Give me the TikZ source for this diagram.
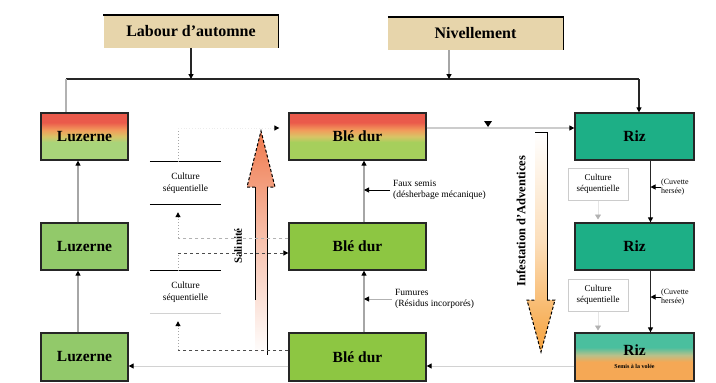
\documentclass[tikz,border=0pt]{standalone}
\usepackage{fontspec}
\setmainfont{Liberation Serif}
\usetikzlibrary{arrows.meta,calc}
\definecolor{beige}{HTML}{E7D5AB}
\definecolor{luzgreen}{HTML}{92C96A}
\definecolor{luzlight}{HTML}{A9D47A}
\definecolor{blegreen}{HTML}{8DC642}
\definecolor{blelight}{HTML}{A6CF5C}
\definecolor{rizteal}{HTML}{1DAF86}
\definecolor{topred}{HTML}{EA5A4B}
\definecolor{midorange}{HTML}{F29B5B}
\definecolor{midyellow}{HTML}{D8C466}
\definecolor{rizorange}{HTML}{F5A855}
\definecolor{rizpale}{HTML}{B9C08A}
\definecolor{uparrow}{HTML}{EF7A4E}
\definecolor{downarrow}{HTML}{F6A23C}
\pgfdeclareverticalshading{luzsh}{100bp}{color(0bp)=(luzlight); color(25bp)=(luzlight); color(44bp)=(luzlight); color(50bp)=(midyellow); color(57bp)=(midorange); color(65bp)=(topred); color(100bp)=(topred)}
\pgfdeclareverticalshading{blesh}{100bp}{color(0bp)=(blelight); color(25bp)=(blelight); color(44bp)=(blelight); color(50bp)=(midyellow); color(57bp)=(midorange); color(65bp)=(topred); color(100bp)=(topred)}
\pgfdeclareverticalshading{rizsh}{100bp}{color(0bp)=(rizorange); color(25bp)=(rizorange); color(45bp)=(rizorange); color(52bp)=(rizpale); color(60bp)=(rizteal!80); color(75bp)=(rizteal!80); color(100bp)=(rizteal!80)}
\begin{document}
\begin{tikzpicture}[x=1pt,y=-1pt,
  box/.style={draw=black!85, line width=1.3pt, inner sep=0pt, minimum height=47pt,
    font=\fontsize{15.5}{17}\selectfont\bfseries},
  luzbox/.style={box, minimum width=87pt},
  blebox/.style={box, minimum width=137pt},
  rizbox/.style={box, minimum width=119pt},
  topbox/.style={fill=beige, inner sep=0pt, minimum height=33pt, minimum width=175pt,
    font=\fontsize{16}{18}\selectfont\bfseries},
  tip/.style={-{Triangle[length=5pt,width=5pt,color=black,fill=black]}},
  graytip/.style={-{Triangle[length=5pt,width=6pt,color=gray!60,fill=gray!60]}},
  grayline/.style={draw=gray!70, line width=1.2pt, tip},
  blackline/.style={draw=black!85, line width=1.2pt, tip},
  small/.style={font=\fontsize{9.5}{11.5}\selectfont, align=left, inner sep=0pt},
  cslab/.style={font=\fontsize{9.5}{11.5}\selectfont, align=center, inner sep=0pt,
    minimum width=71pt, minimum height=42pt},
  csbox/.style={draw=gray!40, line width=1pt, font=\fontsize{9}{10.5}\selectfont,
    align=center, inner sep=0pt, minimum width=60pt, minimum height=32pt},
  tinylab/.style={font=\fontsize{8}{9.5}\selectfont, align=left, inner sep=0pt},
  dashlink/.style={draw=black!70, dashed, line width=0.9pt},
  dotlink/.style={draw=gray!70, dotted, line width=1pt},
]
\useasboundingbox (0,0) rectangle (716,383);

% big shaded arrows
\shade[top color=uparrow, bottom color=white, middle color=uparrow!45]
  (255,355) -- (255,187) -- (247,187) -- (261,131) -- (275,187) -- (267,187) -- (267,355) -- cycle;
\draw[line width=1pt] (255,187) -- (255,300);
\draw[line width=1pt] (267,187) -- (267,355);
\draw[line width=1pt, densely dashed] (255,187) -- (247,187) -- (261,131) -- (275,187) -- (267,187);

\shade[top color=white, bottom color=downarrow, middle color=downarrow!35]
  (535,132) -- (547,132) -- (547,300) -- (555,300) -- (541,352) -- (527,300) -- (535,300) -- cycle;
\draw[line width=1pt] (535,132) -- (547,132) -- (547,300);
\draw[line width=1pt, densely dashed] (547,300) -- (555,300) -- (541,352) -- (527,300) -- (535,300);

\node[rotate=90, font=\fontsize{11}{13}\selectfont\bfseries] (sal) at (238,246) {Salinité};
\node[rotate=90, font=\fontsize{12.5}{14}\selectfont\bfseries] (inf) at (521,221) {Infestation d'Adventices};

% top boxes
\node[topbox] (lab) at (191,31.5) {Labour d'automne};
\draw[line width=1.4pt] (lab.north west) -- (lab.north east) -- (lab.south east);
\node[topbox] (niv) at (475.5,33.5) {Nivellement};
\draw[line width=1.4pt] (niv.north west) -- (niv.north east) -- (niv.south east);

% main boxes
\node[luzbox, shade, shading=luzsh] (luz1) at (84.5,136.5) {Luzerne};
\node[luzbox, fill=luzgreen] (luz2) at (84.5,246.5) {Luzerne};
\node[luzbox, fill=luzgreen, minimum height=48pt] (luz3) at (84.5,357) {Luzerne};

\node[blebox, shade, shading=blesh] (ble1) at (357.5,136.5) {Blé dur};
\node[blebox, fill=blegreen] (ble2) at (357.5,246.5) {Blé dur};
\node[blebox, fill=blegreen, minimum height=48pt] (ble3) at (357.5,357) {Blé dur};

\node[rizbox, fill=rizteal] (riz1) at (634.5,136.5) {Riz};
\node[rizbox, fill=rizteal] (riz2) at (634.5,246.5) {Riz};
\node[rizbox, shade, shading=rizsh, minimum height=48pt, align=center] (riz3) at (634.5,357)
  {Riz\\[-4pt]{\fontsize{6}{7}\selectfont Semis à la volée}};

% top distribution line
\coordinate (tl) at (66,79);
\coordinate (tr) at (639,79);
\coordinate (nv) at (449,79);
\draw[line width=1.3pt, black!85] (tl) -- (tr);
\draw[blackline] (tr) -- (tr |- riz1.north);
\draw[draw=gray!60, line width=1.2pt] (tl) -- (tl |- luz1.north);
\draw[blackline] (lab.south) -- (lab.south |- tl);
\draw[grayline] (nv |- niv.south) -- (nv);

% vertical successions
\draw[grayline] ([xshift=-6.5pt]luz2.north) -- ([xshift=-6.5pt]luz1.south);
\draw[grayline] ([xshift=-6.5pt]luz3.north) -- ([xshift=-6.5pt]luz2.south);
\coordinate (bx) at ([xshift=6.5pt]ble1.south);
\draw[grayline] ([xshift=6.5pt]ble2.north) -- (bx);
\draw[grayline] ([xshift=6.5pt]ble3.north) -- ([xshift=6.5pt]ble2.south);
\coordinate (rx) at ([xshift=16pt]riz1.south);
\draw[blackline] (rx) -- ([xshift=16pt]riz2.north);
\draw[blackline] ([xshift=16pt]riz2.south) -- ([xshift=16pt]riz3.north);

% side labels
\node[small, anchor=west] (fs) at (393,190) {Faux semis\\(désherbage mécanique)};
\draw[tip, line width=1pt] ([xshift=-3pt]fs.west) -- (fs.west -| bx);
\node[small, anchor=west] (fu) at (395,299) {Fumures\\(Résidus incorporés)};
\draw[tip, draw=gray!60, line width=1pt] ([xshift=-3pt]fu.west) -- (fu.west -| bx);

\node[tinylab, anchor=west] (rl1) at (661,187) {(Cuvette\\hersée)};
\draw[tip, line width=1pt] (rl1.west) -- (rl1.west -| rx);
\node[tinylab, anchor=west] (rl2) at (661,297) {(Cuvette\\hersée)};
\draw[tip, line width=1pt] (rl2.west) -- (rl2.west -| rx);

\node[csbox] (cs1) at (598,184) {Culture\\séquentielle};
\draw[draw=gray!20, line width=0.8pt, graytip] (cs1.south) -- ++(0,19);
\node[csbox] (cs2) at (598,295) {Culture\\séquentielle};
\draw[draw=gray!20, line width=0.8pt, graytip] (cs2.south) -- ++(0,19);

% left culture sequence labels
\node[cslab] (cl1) at (185.5,183) {Culture\\séquentielle};
\draw[line width=1.2pt] (cl1.north west) -- (cl1.north east);
\draw[line width=1.2pt] (cl1.south west) -- (cl1.south east);
\node[cslab] (cl2) at (185.5,292) {Culture\\séquentielle};
\draw[line width=1.2pt] (cl2.north west) -- (cl2.north east);
\draw[line width=1pt, gray!35] (cl2.south west) -- (cl2.south east);

\coordinate (dx) at (178,0);
\coordinate (b1w) at ([yshift=8.5pt]ble1.west);
\coordinate (b2a) at ([yshift=8.5pt]ble2.west);
\coordinate (b2b) at ([yshift=-6.5pt]ble2.west);
\coordinate (b3w) at ([yshift=7pt]ble3.west);

\draw[dotlink] (cl1.north -| dx) -- (dx |- b1w);
\draw[draw=gray!15, dotted, line width=0.8pt, tip] (dx |- b1w) -- ([xshift=-9pt]b1w);

\draw[draw=gray!60, dashed, line width=0.9pt] (b2a) -- (dx |- b2a);
\draw[dotlink, tip, shorten >=8pt] (dx |- b2a) -- (cl1.south -| dx);

\draw[dotlink] (cl2.north -| dx) -- (dx |- b2b);
\draw[dashlink, tip] (dx |- b2b) -- (b2b);

\draw[dashlink] (b3w) -- (dx |- b3w);
\draw[dotlink, tip, shorten >=8pt] (dx |- b3w) -- (cl2.south -| dx);

% horizontal links
\coordinate (r3w) at ([yshift=-9pt]riz3.west);
\coordinate (b3e) at (r3w -| ble3.west);
\draw[draw=gray!35, line width=1pt, tip] (r3w) -- (r3w -| ble3.east);
\draw[draw=gray!35, line width=1pt, tip] (b3e) -- (b3e -| luz3.east);

\coordinate (b1e) at ([yshift=8.5pt]ble1.east);
\draw[draw=gray!40, line width=1.2pt, tip] (b1e) -- (b1e -| riz1.west);
\fill (484,121) -- (492,121) -- (488,127) -- cycle;
\end{tikzpicture}
\end{document}
